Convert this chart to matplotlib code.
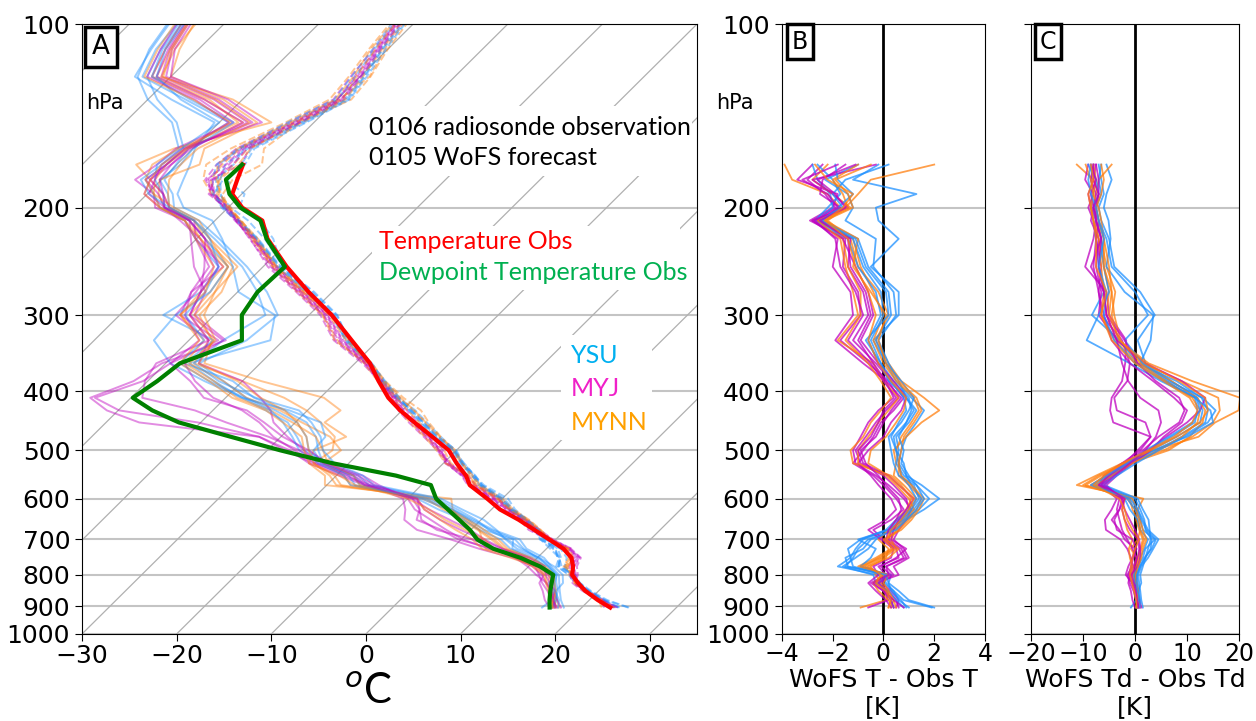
import numpy as np
import matplotlib.pyplot as plt
from matplotlib.transforms import Affine2D
from matplotlib.ticker import NullLocator
from matplotlib.patches import Rectangle

# pressure levels (hPa) of the radiosonde and of the WoFS - obs differences
p_lev = [905, 880, 850, 825, 800, 775, 750, 725, 700, 675, 650, 625, 600, 570,
         550, 525, 500, 475, 450, 430, 410, 385, 360, 330, 300, 275, 250, 225,
         210, 200, 190, 180, 170]
# levels above the sounding top, WoFS members only
p_up = [160, 145, 133, 122, 110, 100]

# 0106 radiosonde observation (degC)
obs_T = [23.0, 20.9, 18.6, 17.0, 15.5, 14.7, 13.6, 11.8, 9.3, 6.7, 4.0, 0.9, -1.6, -4.9,
         -6.3, -8.6, -10.8, -14.0, -17.4, -20.2, -22.8, -25.6, -28.4, -32.8, -37.6, -42.5,
         -47.5, -52.5, -55.0, -58.5, -61.0, -62.0, -63.0]
obs_Td = [16.6, 15.8, 14.9, 14.2, 13.5, 11.2, 8.2, 4.4, 1.7, -0.1, -2.3, -4.6, -7.0, -9.0,
          -13.7, -21.7, -28.6, -35.3, -42.3, -46.4, -49.8, -49.0, -48.5, -44.4, -47.1, -47.9,
          -47.7, -52.6, -55.2, -58.7, -61.3, -63.2, -63.1]

# WoFS T - Obs T (K), six members per PBL scheme
ysu_dT = [
    [2.0, 1.0, 0.6, 0.2, 0.3, -1.5, -1.2, -1.0, -0.6, 0.4, 0.9, 1.6, 2.2, 1.5, 0.9, 0.6, 0.7, 0.9, 1.3, 1.6, 1.1, 0.5, 0.1, -0.4, 0.6, 0.6, -0.5, 0.6, -0.2, -0.3, 1.3, -1.2, -0.2],
    [1.9, 0.8, 0.4, 0.0, -0.2, -1.8, -1.3, -1.1, -0.8, 0.2, 0.8, 1.4, 1.8, 1.3, 0.8, 0.5, 0.6, 0.5, 1.0, 1.3, 0.9, 0.6, 0.2, -0.2, 0.5, 0.4, -0.4, -0.3, -1.5, -1.2, -1.4, -2.3, -1.0],
    [0.8, 0.5, 0.2, -0.3, -0.4, -1.6, -1.1, -0.6, -0.3, 0.3, 0.7, 1.2, 1.5, 1.1, 0.9, 0.8, 0.5, 0.4, 0.9, 1.1, 1.0, 0.4, -0.1, -0.5, 0.0, -0.1, -0.8, -1.2, -2.6, -2.0, -2.1, -2.6, -2.8],
    [1.0, 0.6, 0.4, 0.1, 0.0, -1.2, -1.3, -1.4, -0.9, 0.1, 0.5, 1.0, 1.3, 1.0, 0.7, 0.6, 0.5, 0.3, 0.6, 0.9, 0.8, 0.3, -0.2, -0.6, -0.1, -0.3, -1.0, -1.4, -2.7, -2.2, -1.7, -2.0, -2.6],
    [0.4, 0.3, 0.1, -0.2, 0.2, -0.9, -0.5, -0.3, -1.0, 0.2, 0.6, 1.1, 1.4, 1.2, 0.6, 0.4, 0.3, 0.2, 0.7, 1.0, 1.2, 0.7, 0.1, -0.3, 0.3, 0.2, -0.6, -1.0, -2.4, -1.8, -1.2, -1.8, -1.9],
    [0.9, 0.7, 0.3, 0.2, 0.1, -1.4, -1.5, -0.8, -0.5, 0.5, 0.9, 1.3, 1.6, 1.3, 1.0, 0.7, 0.8, 0.6, 0.9, 1.2, 0.9, 0.2, -0.1, -0.7, 0.2, 0.1, -0.7, -1.1, -2.5, -1.6, -2.0, -1.5, 0.2],
]
myj_dT = [
    [0.6, 0.5, 0.2, -0.3, 0.6, 0.4, 1.0, 0.8, 0.4, 0.6, 0.9, 1.1, 0.8, 0.2, -0.3, -1.1, -1.2, -0.9, -0.6, -0.2, 0.4, 0.1, -0.8, -1.9, -1.2, -1.3, -2.0, -1.8, -2.8, -1.9, -2.3, -3.0, -2.4],
    [0.5, 0.6, 0.3, -0.1, 0.4, 0.1, 0.9, 0.7, 0.2, 0.3, 0.7, 1.0, 0.9, 0.4, 0.0, -0.9, -1.1, -0.7, -0.3, 0.1, 0.6, 0.2, -0.6, -1.7, -0.9, -1.0, -1.6, -1.5, -2.9, -2.0, -1.8, -3.4, -2.8],
    [-0.6, 0.2, 0.0, -0.5, 0.1, -0.2, 0.6, 0.5, 0.0, -0.4, 0.3, 0.8, 0.5, 0.0, -0.4, -1.2, -0.8, -0.4, -0.1, 0.4, 0.8, 0.3, -0.3, -1.2, -0.6, -0.8, -1.4, -1.3, -2.6, -1.7, -2.5, -2.4, -1.5],
    [0.3, 0.1, -0.3, -0.6, -0.2, -0.4, 0.3, 0.4, -0.1, -0.6, 0.1, 0.5, 0.3, -0.2, -0.5, -1.0, -0.6, 0.0, 0.3, 0.7, 0.9, 0.4, -0.2, -0.9, -0.4, -0.6, -1.1, -1.6, -2.8, -1.4, -2.0, -2.8, -0.3],
    [0.4, 0.3, 0.1, -0.2, 0.3, -0.1, 0.5, 0.9, 0.3, 0.4, 0.6, 0.9, 1.2, 0.6, 0.2, -0.8, -1.0, -0.5, -0.2, 0.0, 0.5, 0.0, -0.5, -1.4, -0.8, -1.1, -1.7, -1.9, -2.7, -1.8, -2.2, -3.2, -1.8],
    [0.8, 0.4, 0.0, -0.4, 0.2, 0.1, 0.8, 0.6, 0.1, 0.2, 0.5, 0.7, 0.6, 0.1, -0.2, -0.7, -0.9, -0.3, 0.0, 0.3, 0.7, 0.1, -0.4, -1.0, -0.5, -0.7, -1.3, -1.4, -2.5, -1.5, -1.9, -2.6, -1.1],
]
mynn_dT = [
    [-0.9, 0.1, 0.2, -0.3, 0.0, -1.0, -0.3, 0.3, 0.2, 0.4, 0.8, 1.1, 1.3, 0.8, 0.4, 0.5, 0.4, 0.9, 1.5, 2.2, 1.6, 0.7, 0.2, -0.3, 0.2, -0.2, -1.0, -1.3, -2.2, -1.5, -1.0, -0.5, 2.0],
    [0.2, 0.3, 0.0, -0.2, 0.1, -0.8, -0.2, 0.4, 0.1, 0.6, 1.0, 1.3, 1.5, 1.0, 0.6, 0.6, 0.5, 0.7, 1.1, 1.4, 1.2, 0.5, 0.0, -0.4, 0.0, -0.4, -0.9, -1.2, -2.5, -1.7, -2.2, -3.6, -3.9],
    [0.3, 0.4, 0.1, -0.1, -0.3, -0.5, 0.1, 0.2, -0.2, 0.2, 0.5, 0.9, 1.1, 0.7, 0.3, -1.2, -1.3, -0.8, -0.5, -0.1, 0.3, -0.1, -0.6, -1.5, -0.9, -0.9, -1.4, -1.6, -2.4, -1.3, -2.0, -2.8, -2.2],
    [0.4, 0.2, -0.2, -0.4, 0.0, -0.7, 0.0, 0.5, 0.3, 0.5, 0.9, 1.2, 1.0, 0.5, 0.1, -1.0, -1.0, -0.6, -0.2, 0.2, 0.6, 0.0, -0.4, -1.8, -1.0, -1.2, -1.5, -1.7, -2.6, -1.4, -1.6, -2.0, -1.0],
    [0.5, 0.4, 0.2, 0.0, 0.2, -0.9, -0.1, 0.4, 0.0, 0.7, 1.1, 1.4, 1.6, 1.1, 0.7, 0.6, 0.7, 0.8, 1.2, 1.5, 1.3, 0.6, 0.1, -0.2, 0.1, -0.5, -1.2, -1.0, -2.3, -1.2, -1.4, -1.9, -0.5],
    [0.2, 0.3, 0.1, -0.3, -0.1, -0.6, 0.2, 0.6, 0.1, 0.3, 0.7, 1.0, 1.2, 0.6, 0.2, -0.6, -0.5, 0.1, 0.5, 0.8, 0.9, 0.3, -0.2, -0.6, -0.3, -0.6, -1.1, -1.4, -2.3, -1.6, -1.2, -2.2, -2.7],
]

# WoFS Td - Obs Td (K)
ysu_dTd = [
    [1.5, 1.2, 1.0, 0.8, 0.6, 1.2, 2.5, 3.5, 4.5, 2.5, 1.5, 0.5, -0.5, -7.0, -4.5, -0.8, 3.0, 8.0, 12.5, 13.0, 12.0, 7.0, 2.0, 0.5, 3.8, 1.0, -4.0, -5.0, -6.5, -7.0, -6.0, -6.5, -7.0],
    [0.3, 0.8, 0.6, 1.2, 1.0, 1.5, 2.0, 3.0, 3.2, 2.0, 1.8, 1.0, 0.0, -6.5, -4.0, -0.5, 2.5, 7.0, 11.5, 12.0, 11.5, 6.0, 1.0, 3.0, 3.5, -2.0, -5.5, -4.7, -5.1, -6.0, -5.5, -4.5, -5.5],
    [-0.8, 0.2, 0.0, -0.3, 0.2, 0.8, 1.0, 1.8, 2.5, 1.0, 0.5, -1.0, -2.0, -8.0, -5.0, -1.0, 4.0, 9.0, 13.5, 14.0, 12.8, 8.0, 0.5, -3.0, -8.3, -6.0, -7.0, -7.5, -8.0, -8.5, -8.0, -8.5, -8.0],
    [0.6, 0.5, 0.3, 0.0, -0.2, 0.5, 1.5, 2.0, 3.8, 1.5, 1.0, 0.0, -1.5, -7.5, -4.5, -1.2, 3.5, 10.0, 15.0, 14.5, 11.5, 5.0, -1.0, -9.3, -7.0, -5.0, -6.0, -6.5, -7.5, -8.0, -7.0, -7.5, -9.0],
    [0.2, 0.6, 0.8, 0.5, 0.3, 0.9, 2.0, 2.5, 3.0, 2.8, 2.6, 1.5, 0.5, -6.0, -3.5, 0.2, 4.5, 9.5, 14.0, 15.5, 13.0, 6.5, 1.5, -2.0, 2.5, 0.0, -4.5, -5.5, -7.0, -7.5, -6.5, -7.0, -6.5],
    [0.9, 1.0, 0.5, 0.3, 0.4, 1.0, 1.8, 3.2, 4.0, 2.2, 1.2, 0.5, -1.0, -8.5, -5.5, -1.5, 2.0, 6.5, 11.0, 12.5, 11.8, 5.5, 0.0, -4.0, -6.0, -5.5, -7.0, -6.0, -7.0, -7.5, -8.5, -9.0, -8.5],
]
myj_dTd = [
    [0.5, 0.2, -0.3, -1.0, -1.5, -0.5, -0.8, -1.5, -2.8, -5.6, -5.8, -4.5, -3.5, -6.5, -5.5, -2.0, 0.5, 3.0, -4.2, -4.8, -4.5, -2.5, -1.9, -1.7, -5.0, -5.5, -9.6, -8.0, -7.5, -8.5, -9.0, -8.0, -7.5],
    [1.2, 0.8, 0.2, -0.5, -1.8, -1.3, -0.5, 0.0, -2.0, -3.0, -4.5, -3.0, -2.5, -7.0, -6.0, -2.5, 1.0, 3.0, 2.0, -3.5, -4.0, -1.5, -1.0, -2.5, -6.5, -7.0, -8.0, -7.5, -8.0, -9.0, -8.0, -9.6, -9.0],
    [0.3, 0.5, 0.0, 0.2, -0.5, 0.0, 0.5, 0.8, 0.5, -1.0, -2.0, -2.5, -2.0, -6.5, -4.5, -1.5, 2.5, 6.0, 10.0, 12.5, 13.5, 9.0, 2.0, -3.5, -7.0, -6.5, -7.5, -7.0, -8.5, -8.0, -7.5, -8.5, -8.0],
    [0.0, -0.5, -0.8, -1.3, -1.0, -0.3, 0.3, -0.5, -1.5, -2.5, -3.0, -3.5, -3.0, -5.5, -3.5, -0.5, 3.0, 5.5, 9.0, 10.0, 7.5, 3.5, -1.0, -4.5, -6.0, -7.0, -6.5, -7.5, -7.0, -8.0, -8.5, -7.5, -8.5],
    [0.8, 0.3, 0.5, -0.2, -0.8, 0.5, 1.0, 1.0, 0.8, 0.0, -1.0, -2.0, -2.5, -7.0, -5.0, -1.8, 1.5, 4.5, 8.5, 9.5, 8.5, 4.0, 0.5, -2.0, -5.5, -6.0, -7.0, -6.5, -7.5, -7.5, -7.0, -7.0, -7.5],
    [0.6, 0.4, 0.1, -0.6, -1.2, -0.8, -0.3, 0.3, -0.5, -3.5, -4.0, -3.0, -2.0, -6.0, -4.0, -1.0, 2.0, 4.0, 5.0, 4.5, 1.0, -1.3, -2.5, -3.5, -5.5, -6.0, -8.5, -6.5, -7.5, -8.0, -7.0, -8.0, -8.0],
]
mynn_dTd = [
    [1.0, 0.8, 0.5, 0.3, 0.0, 0.2, 0.5, 1.0, 1.5, 0.8, 0.2, 0.5, 1.6, -11.2, -7.5, -2.5, 3.5, 12.2, 15.4, 19.9, 20.2, 11.0, 2.6, -3.2, -4.5, -3.8, -5.5, -6.5, -7.0, -7.5, -7.0, -8.0, -11.2],
    [0.4, 0.3, 0.2, -0.2, -0.5, -0.2, 0.3, -0.8, 0.5, 1.0, 0.5, -0.5, -1.0, -9.5, -6.5, -2.0, 5.5, 11.0, 15.0, 16.3, 16.0, 9.0, 1.5, -3.5, -5.5, -5.0, -6.0, -7.0, -7.5, -8.0, -7.5, -7.0, -4.5],
    [0.5, 0.6, 0.4, 0.0, -0.3, 0.3, 0.8, 1.2, 1.8, 1.0, 0.8, 0.0, -1.5, -8.5, -5.5, -1.0, 6.4, 10.5, 13.0, 13.5, 12.0, 7.0, 1.0, -2.8, -4.0, -4.5, -5.0, -6.0, -6.5, -7.0, -8.0, -7.5, -8.0],
    [0.7, 0.5, 0.0, -0.5, -0.8, -0.5, -1.0, -1.2, -0.5, -1.5, -2.0, -2.5, -2.0, -7.5, -4.5, -0.5, 4.5, 9.0, 12.0, 12.5, 11.0, 6.0, 0.5, -4.0, -6.5, -6.0, -6.5, -7.0, -8.0, -8.5, -8.0, -8.5, -9.5],
    [0.2, 0.4, 0.6, 0.3, 0.1, 0.6, 1.2, 1.5, 2.2, 1.5, 1.0, 0.3, -0.5, -10.0, -7.0, -2.0, 3.0, 8.0, 12.5, 14.0, 13.5, 8.5, 2.0, -3.0, -5.0, -4.5, -6.0, -6.0, -7.0, -7.5, -6.5, -6.0, -6.5],
    [0.3, 0.2, -0.2, -0.6, -1.0, -0.8, -0.5, 0.0, 0.8, -0.5, -1.5, -2.0, -3.0, -8.0, -6.0, -2.5, 2.5, 7.5, 11.0, 12.0, 10.5, 5.5, 0.0, -4.5, -6.5, -5.5, -7.5, -7.5, -8.0, -8.5, -9.0, -8.0, -8.5],
]

# WoFS T and Td above the sounding top (degC) at p_up
ysu_T_up = [[-63.8, -61.0, -58.8, -59.5, -60.5, -61.0], [-64.6, -61.5, -59.2, -59.8, -60.8, -61.5],
            [-65.2, -62.8, -60.3, -60.9, -61.6, -62.3], [-65.0, -62.4, -60.0, -60.5, -61.4, -62.0],
            [-64.2, -61.3, -59.0, -59.6, -60.6, -61.2], [-63.5, -60.8, -58.7, -59.3, -60.2, -60.9]]
myj_T_up = [[-65.1, -62.0, -59.9, -60.6, -61.2, -61.8], [-65.4, -62.6, -60.4, -61.0, -61.5, -62.0],
            [-64.6, -61.9, -59.5, -60.1, -61.0, -61.7], [-64.0, -61.4, -59.3, -59.9, -60.7, -61.3],
            [-64.8, -62.1, -60.0, -60.3, -61.1, -61.9], [-64.3, -61.6, -59.6, -60.0, -60.9, -61.5]]
mynn_T_up = [[-62.5, -61.5, -58.5, -58.9, -60.0, -60.7], [-66.0, -63.0, -60.8, -61.2, -62.0, -62.5],
             [-65.0, -62.2, -59.8, -59.0, -60.3, -61.1], [-64.2, -61.2, -59.1, -59.7, -60.6, -61.4],
             [-63.9, -61.8, -59.4, -60.4, -61.3, -61.9], [-65.3, -62.5, -60.2, -60.7, -61.8, -62.2]]
ysu_Td_up = [[-70.5, -69.0, -76.0, -83.0, -84.5, -85.0], [-69.8, -70.5, -77.5, -83.8, -85.0, -85.8],
             [-71.0, -74.5, -79.0, -82.5, -84.0, -84.8], [-71.5, -75.0, -80.0, -83.5, -85.2, -86.0],
             [-70.0, -68.5, -75.5, -82.0, -83.8, -84.5], [-71.2, -70.0, -76.5, -81.5, -83.5, -84.2]]
myj_Td_up = [[-70.5, -67.0, -73.0, -81.0, -83.0, -84.0], [-71.8, -68.5, -74.5, -82.0, -83.5, -84.5],
             [-70.8, -66.5, -72.5, -80.5, -82.8, -83.8], [-71.2, -65.5, -71.5, -80.0, -82.5, -83.5],
             [-70.2, -67.5, -74.0, -81.5, -83.2, -84.2], [-70.8, -69.0, -75.0, -82.5, -84.0, -85.0]]
mynn_Td_up = [[-72.0, -64.5, -71.0, -81.0, -82.5, -83.0], [-68.8, -66.0, -72.0, -80.0, -82.0, -83.2],
              [-70.5, -67.5, -74.0, -82.0, -83.5, -84.5], [-71.5, -68.0, -73.5, -81.5, -83.0, -84.0],
              [-69.5, -66.8, -72.8, -80.8, -82.8, -83.8], [-70.8, -68.8, -75.2, -82.8, -84.3, -85.2]]

p_ticks = [100, 200, 300, 400, 500, 600, 700, 800, 900, 1000]

schemes = [
    ('YSU', '#1e90ff', ysu_dT, ysu_dTd, ysu_T_up, ysu_Td_up),
    ('MYJ', '#bf00bf', myj_dT, myj_dTd, myj_T_up, myj_Td_up),
    ('MYNN', '#ff7f0e', mynn_dT, mynn_dTd, mynn_T_up, mynn_Td_up),
]

fig = plt.figure(figsize=(12.56, 7.21), dpi=100)
axA = fig.add_axes([0.0653, 0.1207, 0.4897, 0.846])
axB = fig.add_axes([0.6226, 0.1207, 0.1616, 0.846])
axC = fig.add_axes([0.8209, 0.1207, 0.1656, 0.846])


def setup_pressure(ax, labels=True):
    ax.set_yscale('log')
    ax.set_ylim(1000, 100)
    ax.set_yticks(p_ticks)
    ax.yaxis.set_minor_locator(NullLocator())
    if labels:
        ax.set_yticklabels([str(p) for p in p_ticks])
    else:
        ax.set_yticklabels([])
    ax.yaxis.grid(True, color='#c4c4c4', lw=1.5)
    ax.set_axisbelow(True)
    ax.tick_params(axis='y', labelsize=18, length=5)
    ax.tick_params(axis='x', labelsize=18, length=5, pad=2)


# ---- Panel A: skew-T ----
setup_pressure(axA)
axA.set_xlim(-30, 35)
axA.set_xticks([-30, -20, -10, 0, 10, 20, 30])
axA.set_autoscale_on(False)
skew = axA.transScale + axA.transLimits + Affine2D().skew_deg(45, 0) + axA.transAxes

for t0 in np.arange(-120, 50, 10):
    axA.plot([t0, t0], [1000, 100], color='#b0b0b0', lw=0.9, transform=skew, zorder=1)

p_all = p_lev + p_up
for k in range(6):
    for name, col, dT, dTd, T_up, Td_up in schemes:
        T_m = np.concatenate([np.array(obs_T) + np.array(dT[k]), T_up[k]])
        Td_m = np.concatenate([np.array(obs_Td) + np.array(dTd[k]), Td_up[k]])
        axA.plot(T_m, p_all, ls='--', color=col, alpha=0.45, lw=1.4, transform=skew, zorder=2)
        axA.plot(Td_m, p_all, ls='-', color=col, alpha=0.45, lw=1.4, transform=skew, zorder=2)

axA.plot(obs_T, p_lev, color='red', lw=3, transform=skew, zorder=3)
axA.plot(obs_Td, p_lev, color='green', lw=3, transform=skew, zorder=3.1)

# ---- Panel B and C: differences ----
for ax, key, xlim, xt in [(axB, 2, (-4, 4), [-4, -2, 0, 2, 4]),
                          (axC, 3, (-20, 20), [-20, -10, 0, 10, 20])]:
    setup_pressure(ax, labels=(ax is axB))
    ax.tick_params(axis='x', labelsize=17, pad=1)
    ax.set_xlim(*xlim)
    ax.set_xticks(xt)
    ax.axvline(0, color='black', lw=2, zorder=1.5)
    for k in range(6):
        for sch in schemes:
            ax.plot(sch[key][k], p_lev, color=sch[1], alpha=0.75, lw=1.3, zorder=2)

# x labels of B and C, two lines each
for xc, lab in [(0.703, 'WoFS T - Obs T'), (0.9037, 'WoFS Td - Obs Td')]:
    fig.text(xc, 0.057, lab, fontsize=18, ha='center', va='center')
    fig.text(xc, 0.019, '[K]', fontsize=18, ha='center', va='center')

# ---- text ----
fig.text(0.0804, 0.9348, 'A', fontsize=19, ha='center', va='center',
         bbox=dict(boxstyle='square,pad=0.28', fc='white', ec='black', lw=2.5))
for xc, lbl in [(0.637, 'B'), (0.8344, 'C')]:
    fig.text(xc, 0.9424, lbl, fontsize=17, ha='center', va='center',
             bbox=dict(boxstyle='square,pad=0.22', fc='white', ec='black', lw=2.5))

fig.text(0.0836, 0.857, 'hPa', fontsize=15, ha='center', va='center')
fig.text(0.585, 0.857, 'hPa', fontsize=15, ha='center', va='center')
fig.text(0.293, 0.040, '$^o$C', fontsize=30, ha='center', va='center', family='Lato')

# white panels behind the annotation text (they hide the grid, as in the original)
for x0, y0, x1, y1 in [(360, 106, 692, 176), (372, 226, 680, 290), (561, 335, 652, 440)]:
    fig.add_artist(Rectangle((x0 / 1256, 1 - y1 / 721), (x1 - x0) / 1256, (y1 - y0) / 721,
                             transform=fig.transFigure, fc='white', ec='none', zorder=2))

fig.text(0.2938, 0.8225, '0106 radiosonde observation', fontsize=18, family='Lato', va='center')
fig.text(0.2938, 0.7809, '0105 WoFS forecast', fontsize=18, family='Lato', va='center')
fig.text(0.3018, 0.6644, 'Temperature Obs', fontsize=18, family='Lato', va='center',
         color='#ff0000')
fig.text(0.3018, 0.6214, 'Dewpoint Temperature Obs', fontsize=18, family='Lato', va='center',
         color='#00b050')
fig.text(0.4546, 0.5076, 'YSU', fontsize=18, family='Lato', va='center', color='#00b0f0')
fig.text(0.4546, 0.4605, 'MYJ', fontsize=18, family='Lato', va='center', color='#f020c8')
fig.text(0.4546, 0.4147, 'MYNN', fontsize=18, family='Lato', va='center', color='#ffa000')

fig.savefig('out.png', dpi=100)
